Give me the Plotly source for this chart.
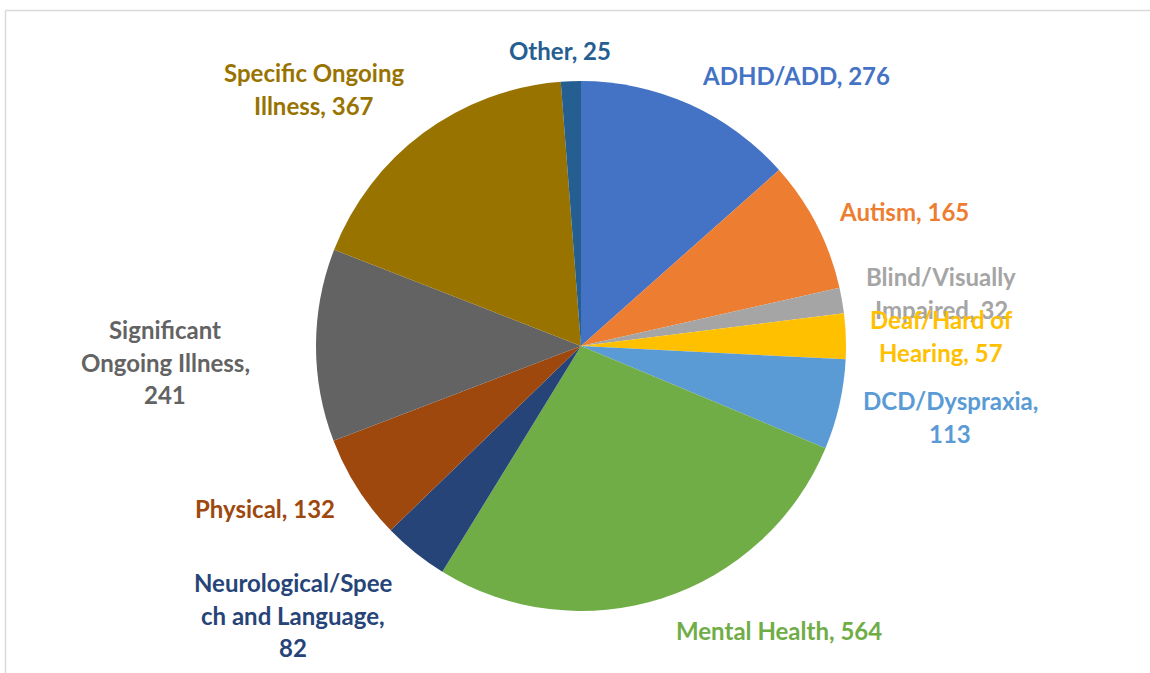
import plotly.graph_objects as go

categories = ["ADHD/ADD", "Autism", "Blind/Visually Impaired", "Deaf/Hard of Hearing",
              "DCD/Dyspraxia", "Mental Health", "Neurological/Speech and Language",
              "Physical", "Significant Ongoing Illness", "Specific Ongoing Illness", "Other"]
values = [276, 165, 32, 57, 113, 564, 82, 132, 241, 367, 25]
colors = ["#4472C4", "#ED7D31", "#A5A5A5", "#FFC000", "#5B9BD5", "#70AD47",
          "#264478", "#9E480E", "#636363", "#997300", "#255E91"]

# label text lines (as wrapped in the original) and label centre positions in px
label_lines = [
    ["ADHD/ADD, 276"],
    ["Autism, 165"],
    ["Blind/Visually", "Impaired, 32"],
    ["Deaf/Hard of", "Hearing, 57"],
    ["DCD/Dyspraxia,", "113"],
    ["Mental Health, 564"],
    ["Neurological/Spee", "ch and Language,", "82"],
    ["Physical, 132"],
    ["Significant", "Ongoing Illness,", "241"],
    ["Specific Ongoing", "Illness, 367"],
    ["Other, 25"],
]
label_pos = [(796, 75), (904, 211), (941, 293), (941, 336), (950, 417), (779, 630),
             (293, 615), (265, 508), (165, 362), (314, 89), (560, 51)]

W, H = 1150, 673
cx, cy, R = 581, 346, 265

fig = go.Figure(go.Pie(
    labels=categories, values=values, sort=False, direction="clockwise", rotation=0,
    marker=dict(colors=colors, line=dict(width=0)),
    textinfo="none", hoverinfo="label+value", showlegend=False,
    domain=dict(x=[(cx - 400) / W, (cx + 400) / W],
                y=[1 - (cy + R) / H, 1 - (cy - R) / H]),
))

LH = 32.5
anns = []
for lines, (px, py), col in zip(label_lines, label_pos, colors):
    n = len(lines)
    for i, t in enumerate(lines):
        yy = py + (i - (n - 1) / 2) * LH
        anns.append(dict(x=px / W, y=1 - yy / H, xref="paper", yref="paper",
                         text="<b>" + t + "</b>", showarrow=False,
                         xanchor="center", yanchor="middle",
                         font=dict(family="Lato", size=24, color=col)))

fig.update_layout(
    width=W, height=H, margin=dict(l=0, r=0, t=0, b=0),
    paper_bgcolor="white", plot_bgcolor="white",
    annotations=anns,
    shapes=[
        dict(type="line", xref="paper", yref="paper", x0=5.5 / W, x1=1, y0=1 - 10.5 / H, y1=1 - 10.5 / H,
             line=dict(color="#D9D9D9", width=1.5)),
        dict(type="line", xref="paper", yref="paper", x0=5.5 / W, x1=5.5 / W, y0=0, y1=1 - 10.5 / H,
             line=dict(color="#D9D9D9", width=1.5)),
    ],
)
fig.write_html("out.html", config={"displayModeBar": False},
               post_script="document.body.style.margin='0';document.body.style.overflow='hidden';")
